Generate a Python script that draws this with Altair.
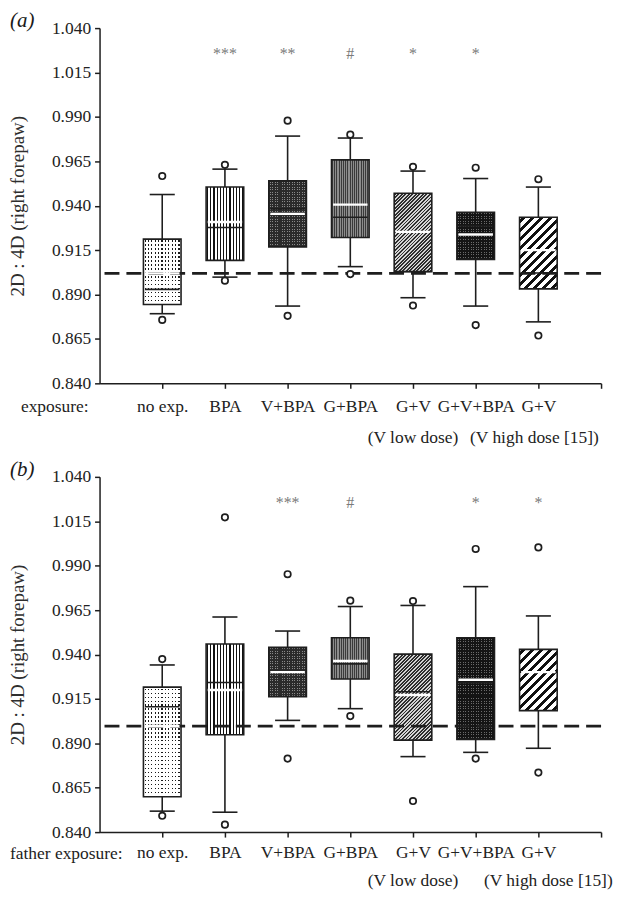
import json
import math
import altair as alt
import pandas as pd

# ---------------- data ----------------
categories = ["no exp.", "BPA", "V+BPA", "G+BPA", "G+V", "G+V+BPA", "G+V"]
y_ticks = [0.840, 0.865, 0.890, 0.915, 0.940, 0.965, 0.990, 1.015, 1.040]
sub_labels = ["(V low dose)", "(V high dose [15])"]
sub_label_cat = [5, 7]

# panel (a): exposure
a_q1 = [0.8844, 0.9092, 0.9168, 0.9221, 0.9028, 0.9098, 0.8932]
a_med = [0.8929, 0.9277, 0.9382, 0.9335, 0.9030, 0.9286, 0.9021]
a_q3 = [0.9212, 0.9505, 0.9540, 0.9658, 0.9470, 0.9363, 0.9335]
a_mean = [0.9019, 0.9308, 0.9354, 0.9406, 0.9253, 0.9238, 0.9150]
a_wlo = [0.8792, 0.8998, 0.8835, 0.9057, 0.8882, 0.8835, 0.8746]
a_whi = [0.9463, 0.9606, 0.9792, 0.9781, 0.9595, 0.9553, 0.9505]
a_out_lo = [0.8757, 0.8978, 0.8780, 0.9015, 0.8838, 0.8728, 0.8669]
a_out_hi = [0.9567, 0.9630, 0.9879, 0.9800, 0.9619, 0.9614, 0.9549]
a_sig = ["", "***", "**", "#", "*", "*", ""]
a_ref = 0.9019

# panel (b): father exposure
b_q1 = [0.8599, 0.8948, 0.9163, 0.9262, 0.8918, 0.8922, 0.9084]
b_med = [0.9106, 0.9242, 0.9301, 0.9347, 0.9190, 0.9240, 0.9300]
b_q3 = [0.9216, 0.9459, 0.9440, 0.9494, 0.9402, 0.9494, 0.9429]
b_mean = [0.8997, 0.9200, 0.9301, 0.9363, 0.9172, 0.9258, 0.9301]
b_wlo = [0.8518, 0.8512, 0.9029, 0.9095, 0.8825, 0.8849, 0.8872]
b_whi = [0.9341, 0.9611, 0.9532, 0.9670, 0.9676, 0.9782, 0.9617]
b_out_lo = [0.8492, 0.8442, 0.8814, 0.9053, 0.8575, 0.8814, 0.8735]
b_out_hi = [0.9374, 1.0172, 0.9852, 0.9703, 0.9701, 0.9994, 1.0003]
b_sig = ["", "", "***", "#", "", "*", "*"]
b_ref = 0.8997

SIG_Y = 1.0275

# ---------------- styling ----------------
W, H = 504, 357
YMIN, YMAX = 0.84, 1.04
UNIT = W / 8
BOX_HALF = 0.3
CAP_HALF = 0.2
FONT = "Liberation Serif"
INK = "#1e1e1e"
TXT = "#222222"

# fill textures per category (pattern emulated with hard-stop gradients)
TEX = [
    ("dots", dict(fg="#1a1a1a", bg="#ffffff", vper=3.4, vw=1.2, hper=4.0, hw=1.2)),
    ("vstripes", dict(fg="#111111", bg="#ffffff", per=3.2, lw=1.2)),
    ("dots", dict(fg="#8a8a8a", bg="#2b2b2b", vper=2.5, vw=1.0, hper=2.5, hw=1.0)),
    ("vstripes", dict(fg="#3a3a3a", bg="#8c8c8c", per=2.2, lw=1.0)),
    ("diag", dict(fg="#2e2e2e", bg="#d4d4d4", per=2.5, lw=1.3)),
    ("dots", dict(fg="#6a6a6a", bg="#141414", vper=2.6, vw=1.0, hper=2.6, hw=1.0)),
    ("diag", dict(fg="#111111", bg="#ffffff", per=6.4, lw=2.7)),
]


def stops_for(L, period, width, fg, bg):
    out = [(bg, 0.0)]
    s = (period - width) / 2
    while s < L - 1e-6:
        e = min(s + width, L)
        out += [(bg, s / L), (fg, s / L), (fg, e / L), (bg, e / L)]
        s += period
    out.append((bg, 1.0))
    return [{"color": c, "offset": round(min(max(o, 0.0), 1.0), 5)} for c, o in out]


xs = alt.Scale(domain=[0, 8], nice=False, zero=False)
ys = alt.Scale(domain=[YMIN, YMAX], nice=False, zero=False)

label_arr = json.dumps([""] + categories + [""])


def x_axis(pad):
    return alt.Axis(
        values=list(range(1, 9)),
        labelExpr=f"{label_arr}[datum.value]",
        title=None, grid=False,
        domainColor=INK, domainWidth=1.5, tickColor=INK, tickWidth=1.5, tickSize=5,
        labelFont=FONT, labelFontSize=17.5, labelColor=TXT, labelPadding=pad,
        labelFlush=False, labelOverlap=False,
    )


ya = alt.Axis(
    values=y_ticks, format=".3f", grid=False,
    title="2D : 4D (right forepaw)", titleFont=FONT, titleFontSize=19,
    titleFontWeight="normal", titleColor="#2e2e2e", titlePadding=24,
    domainColor=INK, domainWidth=1.5, tickColor=INK, tickWidth=1.5, tickSize=5,
    labelFont=FONT, labelFontSize=17.5, labelColor=TXT, labelPadding=4,
    labelFlush=False, labelOverlap=False,
)


def panel(tag, q1, med, q3, mean, wlo, whi, olo, ohi, sig, ref,
          exp_text, exp_x, exp_align, lab_pad, lab_y, sub_y, sub_dx):
    xa = x_axis(lab_pad)
    df = pd.DataFrame(dict(idx=list(range(1, 8)), cat=categories, q1=q1, med=med,
                           q3=q3, mean=mean, wlo=wlo, whi=whi, sig=sig))
    outl = pd.DataFrame(dict(idx=list(range(1, 8)) * 2, v=olo + ohi))
    base = alt.Chart(df).transform_calculate(
        bl=f"datum.idx - {BOX_HALF}", br=f"datum.idx + {BOX_HALF}",
        cl=f"datum.idx - {CAP_HALF}", cr=f"datum.idx + {CAP_HALF}",
        ml=f"datum.idx - {BOX_HALF - 0.025}", mr=f"datum.idx + {BOX_HALF - 0.025}",
        sy=str(SIG_Y),
    )
    X = lambda f: alt.X(f"{f}:Q", scale=xs, axis=xa)
    Y = lambda f: alt.Y(f"{f}:Q", scale=ys, axis=ya)

    layers = []
    layers.append(base.mark_rule(color=INK, strokeWidth=1.6).encode(x=X("idx"), y=Y("wlo"), y2="whi:Q"))
    layers.append(base.mark_rule(color=INK, strokeWidth=1.6).encode(x=X("cl"), x2="cr:Q", y=Y("wlo")))
    layers.append(base.mark_rule(color=INK, strokeWidth=1.6).encode(x=X("cl"), x2="cr:Q", y=Y("whi")))

    for i in range(7):
        kind, p = TEX[i]
        w = 2 * BOX_HALF * UNIT
        h = (q3[i] - q1[i]) * H / (YMAX - YMIN)
        src = base.transform_filter(alt.datum.idx == i + 1)
        enc = dict(x=X("bl"), x2="br:Q", y=Y("q1"), y2="q3:Q")
        if kind == "vstripes":
            g = {"gradient": "linear", "x1": 0, "y1": 0, "x2": 1, "y2": 0,
                 "stops": stops_for(w, p["per"], p["lw"], p["fg"], p["bg"])}
            layers.append(src.mark_rect(fill=g, stroke=INK, strokeWidth=1.6).encode(**enc))
        elif kind == "diag":
            s = (w + h) / (w * w + h * h)
            g = {"gradient": "linear", "x1": 0, "y1": 0, "x2": s * w, "y2": s * h,
                 "stops": stops_for(w + h, p["per"] * math.sqrt(2), p["lw"] * math.sqrt(2),
                                    p["fg"], p["bg"])}
            layers.append(src.mark_rect(fill=g, stroke=INK, strokeWidth=1.6).encode(**enc))
        else:
            g1 = {"gradient": "linear", "x1": 0, "y1": 0, "x2": 1, "y2": 0,
                  "stops": stops_for(w, p["vper"], p["vw"], p["fg"], p["bg"])}
            g2 = {"gradient": "linear", "x1": 0, "y1": 0, "x2": 0, "y2": 1,
                  "stops": stops_for(h, p["hper"], p["hw"], "rgba(255,255,255,0)", p["bg"])}
            layers.append(src.mark_rect(fill=g1).encode(**enc))
            layers.append(src.mark_rect(fill=g2, stroke=INK, strokeWidth=1.6).encode(**enc))

    refdf = pd.DataFrame({"ref": [ref]})
    layers.append(alt.Chart(refdf).mark_rule(color=INK, strokeWidth=2.8, strokeDash=[15, 7]).encode(
        y=alt.Y("ref:Q", scale=ys, axis=ya)))
    layers.append(base.mark_rule(color=INK, strokeWidth=1.6).encode(x=X("ml"), x2="mr:Q", y=Y("med")))
    layers.append(base.mark_rule(color="#ffffff", strokeWidth=2.4).encode(x=X("ml"), x2="mr:Q", y=Y("mean")))
    layers.append(alt.Chart(outl).mark_point(shape="circle", filled=False, fill="#ffffff", stroke=INK,
                                             strokeWidth=1.7, size=42, opacity=1).encode(
        x=alt.X("idx:Q", scale=xs, axis=xa), y=alt.Y("v:Q", scale=ys, axis=ya)))
    layers.append(base.mark_text(font=FONT, fontSize=16, color="#7a7a7a", baseline="middle", dy=4).encode(
        x=X("idx"), y=Y("sy"), text="sig:N"))

    subdf = pd.DataFrame(dict(idx=sub_label_cat, t=sub_labels))
    for k in range(2):
        layers.append(alt.Chart(subdf.iloc[[k]]).mark_text(
            font=FONT, fontSize=17.5, color=TXT, baseline="middle", dx=[0, sub_dx][k]).encode(
            x=alt.X("idx:Q", scale=xs, axis=xa), y=alt.value(H + sub_y), text="t:N"))
    layers.append(base.transform_filter(alt.datum.idx == 1).mark_text(
        text=exp_text, font=FONT, fontSize=17.5, color=TXT, align=exp_align, baseline="middle").encode(
        x=alt.value(exp_x), y=alt.value(H + lab_y)))
    layers.append(base.transform_filter(alt.datum.idx == 1).mark_text(
        text=tag, font=FONT, fontSize=21, fontStyle="italic", color="#1a1a1a", align="left",
        baseline="middle").encode(x=alt.value(-90), y=alt.value(-7)))
    return alt.layer(*layers).properties(width=W, height=H)


pa = panel("(a)", a_q1, a_med, a_q3, a_mean, a_wlo, a_whi, a_out_lo, a_out_hi, a_sig, a_ref,
           "exposure:", -11, "right", 9, 24, 55, -4)
pb = panel("(b)", b_q1, b_med, b_q3, b_mean, b_wlo, b_whi, b_out_lo, b_out_hi, b_sig, b_ref,
           "father exposure:", -90, "left", 7, 22, 49, 10)

chart = alt.vconcat(pa, pb, spacing=12).properties(padding=0, background="white").configure_view(stroke=None)

chart.save("out.html", embed_options={"renderer": "svg", "actions": False})
